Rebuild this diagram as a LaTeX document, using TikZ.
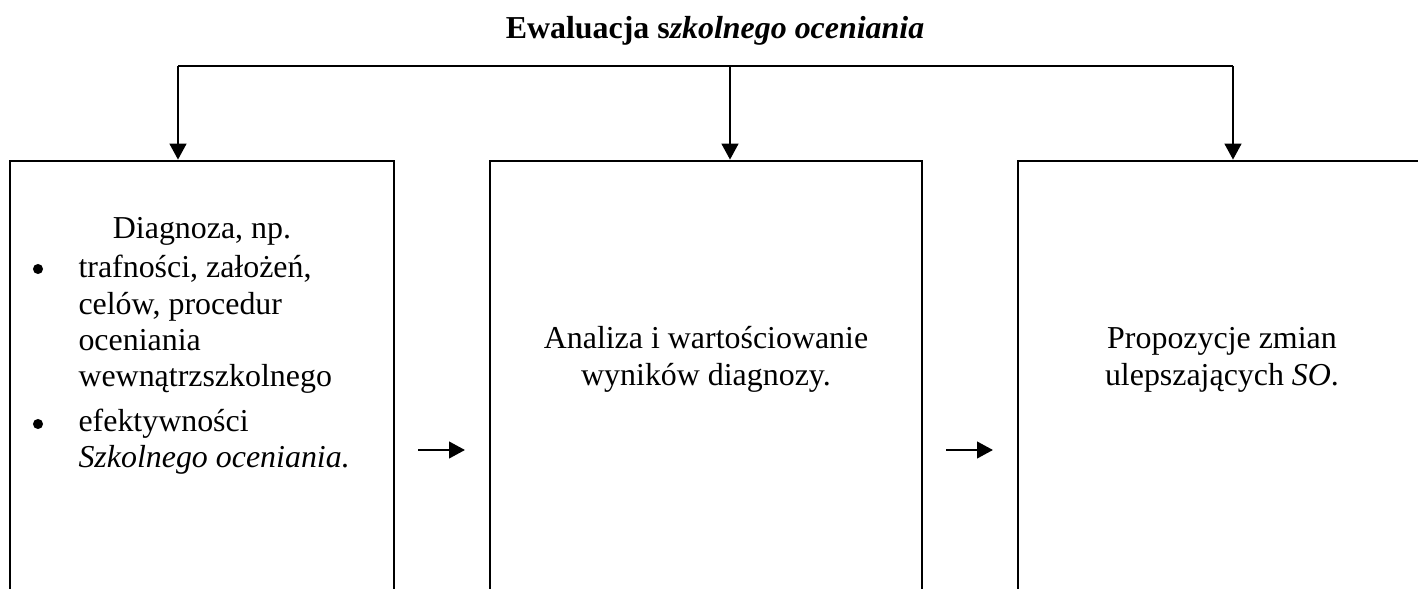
\documentclass[tikz,border=0pt]{standalone}
\usepackage{fontspec}
\setmainfont{Liberation Serif}
\usetikzlibrary{arrows.meta,fit}

\tikzset{
  ramka/.style={draw, line width=1pt, inner sep=0pt},
  linia/.style={line width=1pt},
  strzalka/.style={line width=1pt, -{Triangle[length=6pt,width=6.2pt]}},
  tekst/.style={font=\fontsize{12}{13.7}\selectfont, inner sep=0pt},
  kropka/.style={circle, fill, inner sep=0pt, minimum size=3.8pt},
}

\begin{document}
\begin{tikzpicture}[x=0.376pt, y=-0.376pt]
    % Obszar rysunku
    \useasboundingbox (0,0) rectangle (1418,589);
    \clip (0,0) rectangle (1418,589);

    % Tytul
    \node[tekst, anchor=base, font=\fontsize{12}{13.7}\selectfont\bfseries] (tytul) at (715,39) {Ewaluacja s\textit{zkolnego oceniania}};

    % Ramki
    \node[ramka, fit={(10,161) (394,640)}] (diagnoza) {};
    \node[ramka, fit={(490,161) (922,640)}] (analiza) {};
    \node[ramka, fit={(1018,161) (1426,640)}] (propozycje) {};

    % Linia rozgalezienia i strzalki w dol
    \coordinate (r1) at (178,66);
    \coordinate (r2) at (730,66);
    \coordinate (r3) at (1233,66);
    \draw[linia] (r1) -- (r3);
    \draw[strzalka] (r1) -- (r1 |- diagnoza.north);
    \draw[strzalka] (r2) -- (r2 |- analiza.north);
    \draw[strzalka] (r3) -- (r3 |- propozycje.north);

    % Strzalki miedzy ramkami
    \coordinate (s1) at (418,450);
    \coordinate (k1) at (465,450);
    \coordinate (s2) at (946,450);
    \coordinate (k2) at (993,450);
    \draw[strzalka] (s1) -- (k1);
    \draw[strzalka] (s2) -- (k2);

    % Tekst w pierwszej ramce
    \node[tekst, anchor=base] (naglowek) at (202,239) {Diagnoza, np.};
    \node[kropka] (kropka1) at (38,269) {};
    \node[tekst, anchor=base west, align=left] (punkt1) at (78,387) {trafności, założeń,\\celów, procedur\\oceniania\\wewnątrzszkolnego};
    \node[kropka] (kropka2) at (38,424) {};
    \node[tekst, anchor=base west, align=left] (punkt2) at (78,468) {efektywności\\\textit{Szkolnego oceniania.}};

    % Tekst w drugiej i trzeciej ramce
    \node[tekst, anchor=base, align=center] (opis2) at (706,385) {Analiza i wartościowanie\\wyników diagnozy.};
    \node[tekst, anchor=base, align=center] (opis3) at (1222,385) {Propozycje zmian\\ulepszających \textit{SO}.};

\end{tikzpicture}
\end{document}
